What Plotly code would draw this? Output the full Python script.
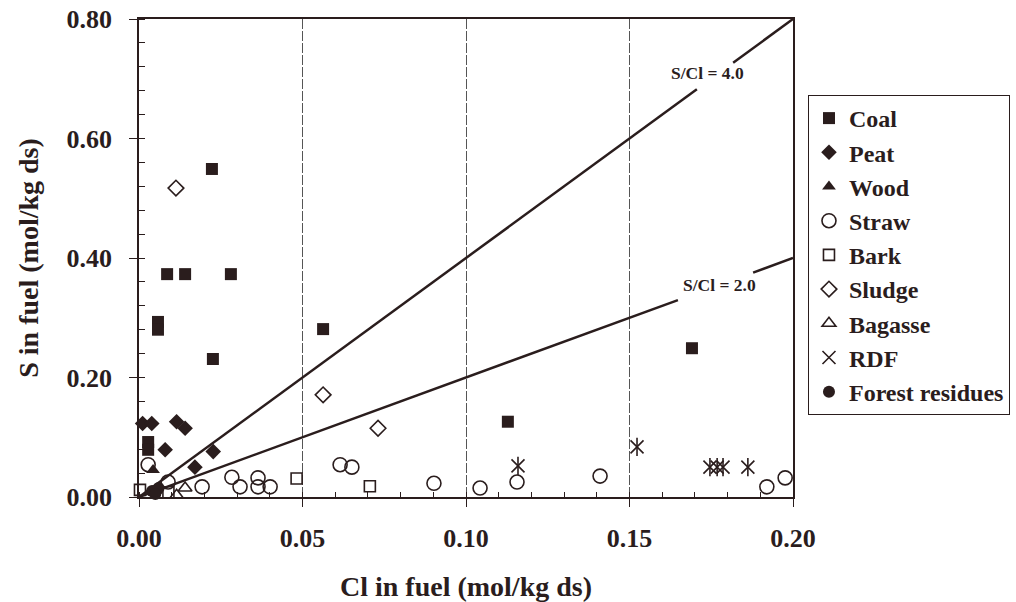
import plotly.graph_objects as go

INK = "#2a1d1d"
FONT = "Liberation Serif"

# ---- data (Cl, S in mol/kg ds) ----
coal_cl = [0.0223, 0.0086, 0.0141, 0.0281, 0.0058, 0.0058, 0.0226, 0.0563, 0.0028, 0.0028, 0.1128, 0.1691]
coal_s = [0.549, 0.373, 0.373, 0.373, 0.293, 0.280, 0.231, 0.281, 0.092, 0.079, 0.126, 0.249]

peat_cl = [0.0011, 0.0039, 0.0115, 0.0141, 0.0080, 0.0227, 0.0171]
peat_s = [0.123, 0.123, 0.126, 0.115, 0.079, 0.076, 0.050]

wood_cl = [0.0043, 0.0050]
wood_s = [0.045, 0.010]

straw_cl = [0.0028, 0.0089, 0.0193, 0.0284, 0.0309, 0.0364, 0.0364, 0.0401, 0.0615, 0.0651,
            0.0902, 0.1043, 0.1156, 0.1410, 0.1920, 0.1976]
straw_s = [0.054, 0.025, 0.017, 0.033, 0.017, 0.032, 0.017, 0.017, 0.054, 0.050,
           0.023, 0.015, 0.025, 0.035, 0.017, 0.032]

bark_cl = [0.0003, 0.0090, 0.0482, 0.0706]
bark_s = [0.012, 0.008, 0.031, 0.018]

sludge_cl = [0.0113, 0.0563, 0.0731]
sludge_s = [0.517, 0.171, 0.115]

bagasse_cl = [0.0115, 0.0141]
bagasse_s = [0.003, 0.015]

rdf_cl = [0.1159, 0.1523, 0.1746, 0.1768, 0.1786, 0.1862]
rdf_s = [0.052, 0.084, 0.050, 0.050, 0.050, 0.050]

forest_cl = [0.0040, 0.0060, 0.0050]
forest_s = [0.010, 0.015, 0.005]

ratios = [4.0, 2.0]
ratio_labels = ["S/Cl = 4.0", "S/Cl = 2.0"]

x_ticks = [0.00, 0.05, 0.10, 0.15, 0.20]
y_ticks = [0.00, 0.20, 0.40, 0.60, 0.80]

# layout-only constants: where each ratio line is interrupted by its label
line_gaps = [(0.1706, 0.1817), (0.1648, 0.1878)]
label_pos = [(0.1740, 0.7096), (0.1774, 0.355)]
X_MAX = 0.20

fig = go.Figure()

# ratio lines
for r, (g0, g1) in zip(ratios, line_gaps):
    xs = [0.0, g0, None, g1, X_MAX]
    ys = [0.0, r * g0, None, r * g1, r * X_MAX]
    fig.add_trace(go.Scatter(x=xs, y=ys, mode="lines", line=dict(color=INK, width=2.5),
                             showlegend=False, hoverinfo="skip", cliponaxis=False))

series = [
    ("Coal", coal_cl, coal_s, "square", 12, True),
    ("Peat", peat_cl, peat_s, "diamond", 12, True),
    ("Wood", wood_cl, wood_s, "triangle-up", 12, True),
    ("Straw", straw_cl, straw_s, "circle-open", 14, False),
    ("Bark", bark_cl, bark_s, "square-open", 11, False),
    ("Sludge", sludge_cl, sludge_s, "diamond-open", 12, False),
    ("Bagasse", bagasse_cl, bagasse_s, "triangle-up-open", 12, False),
    ("RDF", rdf_cl, rdf_s, "x-thin-open", 13, False),
    ("Forest residues", forest_cl, forest_s, "circle", 12, True),
]

for name, xs, ys, sym, size, filled in series:
    marker = dict(symbol=sym, size=size, color=INK)
    if filled:
        marker["line"] = dict(width=0)
    else:
        marker["line"] = dict(width=1.6, color=INK)
    fig.add_trace(go.Scatter(x=xs, y=ys, mode="markers", name=name, marker=marker,
                             cliponaxis=False))
    if name == "RDF":
        fig.add_trace(go.Scatter(x=xs, y=ys, mode="markers", showlegend=False,
                                 marker=dict(symbol="line-ns-open", size=13, color=INK,
                                             line=dict(width=1.6, color=INK)),
                                 cliponaxis=False, hoverinfo="skip"))

for txt, (lx, ly) in zip(ratio_labels, label_pos):
    fig.add_annotation(x=lx, y=ly, text=txt, showarrow=False,
                       font=dict(family=FONT, size=17.5, color=INK, weight="bold"))

fig.update_layout(
    width=1016, height=602,
    margin=dict(l=139, r=223, t=19, b=105, autoexpand=False),
    paper_bgcolor="white", plot_bgcolor="white",
    font=dict(family=FONT, color=INK, weight="bold"),
    showlegend=True,
    legend=dict(x=1.0229, y=0.8410, xanchor="left", yanchor="top",
                bordercolor=INK, borderwidth=1, bgcolor="white",
                font=dict(family=FONT, size=24, color=INK, weight="bold"),
                tracegroupgap=0),
)

fig.update_xaxes(
    range=[0, X_MAX], tickvals=x_ticks, tickformat=".2f",
    showgrid=True, gridcolor="#555", gridwidth=1, griddash="10px,2px",
    zeroline=False, showline=True, linecolor=INK, linewidth=1.5, mirror=True,
    ticks="outside", ticklen=8, tickcolor=INK, tickwidth=1.2,
    ticklabelstandoff=9,
    tickfont=dict(family=FONT, size=26, color=INK, weight="bold"),
    minor=dict(dtick=0.01, ticks="inside", ticklen=5, tickcolor=INK, showgrid=False),
    title=dict(text="Cl in fuel (mol/kg ds)", standoff=32,
               font=dict(family=FONT, size=28, color=INK, weight="bold")),
)
fig.update_yaxes(
    range=[0, 0.8], tickvals=y_ticks, tickformat=".2f",
    showgrid=False, zeroline=False, showline=True, linecolor=INK, linewidth=1.5, mirror=True,
    ticks="outside", ticklen=8, tickcolor=INK, tickwidth=1.2,
    ticklabelstandoff=12,
    tickfont=dict(family=FONT, size=26, color=INK, weight="bold"),
    minor=dict(dtick=0.04, ticks="inside", ticklen=6, tickcolor=INK, showgrid=False),
    title=dict(text="S in fuel (mol/kg ds)", standoff=20,
               font=dict(family=FONT, size=28, color=INK, weight="bold")),
)

fig.write_html("out.html")
